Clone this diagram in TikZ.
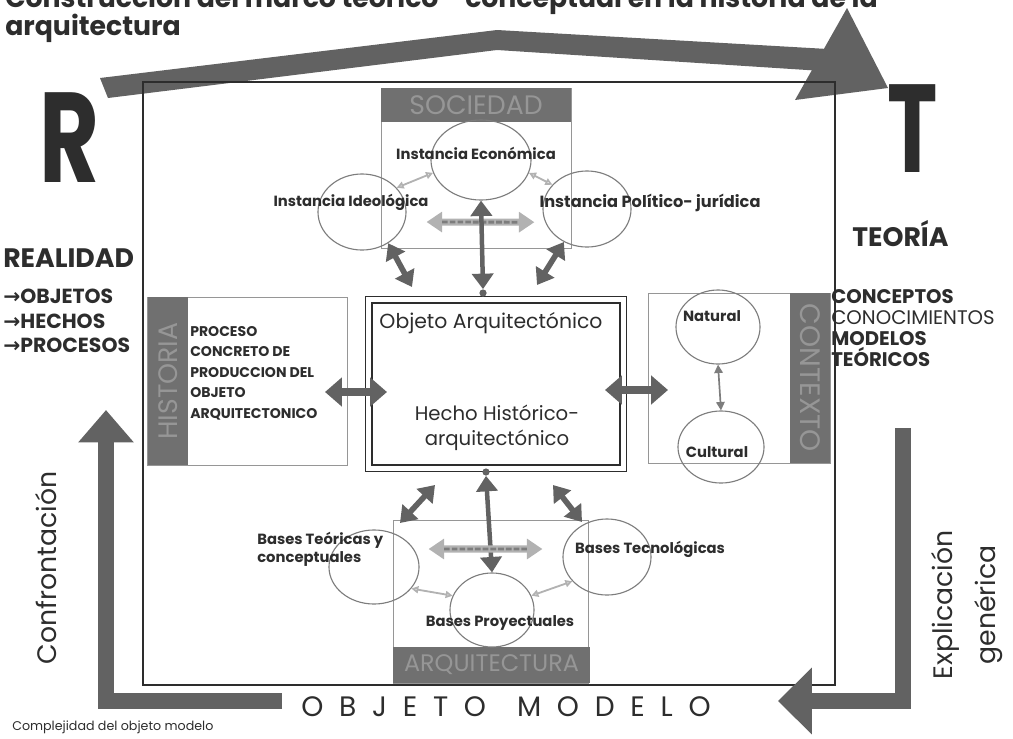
\documentclass[tikz,border=0pt]{standalone}
\usepackage{fontspec}
\setmainfont{Poppins}
\newfontfamily\arrowfont{DejaVu Sans}
\usetikzlibrary{arrows.meta,positioning,shapes.geometric,fit,calc}
\definecolor{rtdark}{RGB}{98,98,98}
\definecolor{rtbar}{RGB}{112,112,112}
\definecolor{rtbartext}{RGB}{150,150,150}
\definecolor{rtline}{RGB}{150,150,150}
\definecolor{rtcirc}{RGB}{125,125,125}
\definecolor{rtlight}{RGB}{178,178,178}
\definecolor{rttext}{RGB}{45,45,45}

\begin{document}
\begin{tikzpicture}[x=0.025cm, y=-0.025cm,
    every node/.style={text=rttext},
    bar/.style={fill=rtbar, inner sep=0pt, font=\fontsize{19}{19}\selectfont, text=rtbartext},
    area/.style={draw=rtline, line width=0.5pt, inner sep=0pt},
    circ/.style={ellipse, draw=rtcirc, line width=0.8pt, inner sep=0pt},
    lbl/.style={font=\bfseries\fontsize{10.5}{13}\selectfont, inner sep=0pt},
    fatarr/.style={{Triangle[length=12pt,width=20pt]}-{Triangle[length=12pt,width=20pt]}, line width=5.5pt, draw=rtdark},
    darkarr/.style={{Triangle[length=11pt,width=15pt]}-{Triangle[length=11pt,width=15pt]}, line width=3.2pt, draw=rtdark},
    dasharr/.style={{Triangle[length=11pt,width=14pt]}-{Triangle[length=11pt,width=14pt]}, line width=5pt, draw=rtlight,
        postaction={draw=rtcirc, line width=2pt, dash pattern=on 4pt off 1.5pt, shorten <=11pt, shorten >=11pt, arrows=-}},
    thinarr/.style={{Triangle[open,length=5pt,width=5pt]}-{Triangle[open,length=5pt,width=5pt]}, line width=1.3pt, draw=rtlight},
    midarr/.style={{Triangle[length=6pt,width=6pt]}-{Triangle[length=6pt,width=6pt]}, line width=1.2pt, draw=rtcirc},
    big/.style={line width=11.5pt, draw=rtdark, line join=miter},
    dot/.style={circle, fill=rtdark, inner sep=0pt, minimum size=0.18cm}
]
\useasboundingbox (0,0) rectangle (1013,738);

% title, first line cut by the page
\node[anchor=base west, font=\bfseries\fontsize{19}{26}\selectfont, inner sep=0pt] (title1) at (5,7) {Construcción del marco teórico - conceptual en la historia de la};
\node[anchor=base west, font=\bfseries\fontsize{19}{26}\selectfont, inner sep=0pt] (title2) at (5,35) {arquitectura};

% big arrow R -> T
\fill[rtdark] (100,78) -- (497,30) -- (845,50) -- (838,72) -- (497,50) -- (108,98) -- cycle;
\fill[rtdark] (847,8) -- (888,88) -- (795,100) -- cycle;

% frame
\draw[line width=1pt, rttext] (143,82) rectangle (835,685);

\node[font=\bfseries\fontsize{91}{91}\selectfont, inner sep=0pt, text=rttext] (rr) at (70,138) {\scalebox{0.72}[1]{R}};
\node[font=\bfseries\fontsize{89}{89}\selectfont, inner sep=0pt, text=rttext] (tt) at (913,129) {\scalebox{0.68}[1]{T}};

\node[anchor=west, font=\bfseries\fontsize{19}{19}\selectfont, inner sep=0pt] (real) at (3,258) {REALIDAD};
\node[anchor=west, align=left, font=\bfseries\fontsize{14.5}{17.4}\selectfont, inner sep=0pt] (reallist) at (3,321)
    {{\arrowfont →}OBJETOS\\{\arrowfont →}HECHOS\\{\arrowfont →}PROCESOS};
\node[anchor=west, font=\bfseries\fontsize{19}{19}\selectfont, inner sep=0pt] (teo) at (852,234) {TEORÍA};
\node[anchor=west, align=left, font=\fontsize{14}{15}\selectfont, inner sep=0pt] (teolist) at (831,328)
    {\textbf{CONCEPTOS}\\CONOCIMIENTOS\\\textbf{MODELOS}\\\textbf{TEÓRICOS}};

% SOCIEDAD
\node[area, minimum width=4.75cm, minimum height=4cm] (socbox) at (476,168) {};
\node[bar, minimum width=4.75cm, minimum height=0.85cm] (socbar) at (476,105) {SOCIEDAD};
\node[circ, minimum width=2.5cm, minimum height=2cm] (eco) at (481,160) {};
\node[circ, minimum width=2.2cm, minimum height=1.9cm] (ideo) at (362,212) {};
\node[circ, minimum width=2.2cm, minimum height=1.9cm] (poli) at (587,209) {};
\node[lbl] (ecot) at (476,153) {Instancia Económica};
\node[lbl] (ideot) at (351,202) {Instancia Ideológica};
\node[lbl, font=\bfseries\fontsize{11.5}{13}\selectfont] (polit) at (650,203) {Instancia Político- jurídica};
\draw[thinarr] (ideo.35) -- (eco.195);
\draw[thinarr] (eco.345) -- (poli.145);
\draw[dasharr] ([xshift=0.5cm,yshift=-0.25cm]ideo.east) -- ([xshift=-0.2cm,yshift=-0.33cm]poli.west);

% objeto arquitectonico
\node[draw=rttext, line width=1.4pt, minimum width=6.2cm, minimum height=4.05cm, inner sep=0pt] (obj) at (496,384) {};
\node[draw=rttext, line width=0.6pt, fit=(obj), inner sep=0.14cm] (objout) {};
\node[font=\fontsize{14.5}{17}\selectfont] (objt) at (491,323) {Objeto Arquitectónico};
\node[font=\fontsize{14}{17.5}\selectfont, align=center] (hecho) at (497,428) {Hecho Histórico-\\arquitectónico};
\node[dot] (topdot) at (483,293) {};
\node[dot] (botdot) at (486,472) {};
\coordinate (ul) at (412,287);
\coordinate (ur) at (537,285);
\draw[darkarr] (eco.south) -- (topdot.north);
\draw[darkarr, line width=4pt] (ideo.310) -- (ul);
\draw[darkarr, line width=4pt] (poli.235) -- (ur);

% HISTORIA
\node[area, minimum width=5cm, minimum height=4.2cm] (histbox) at (247,381) {};
\node[bar, rotate=90, minimum width=4.2cm, minimum height=1cm] (histbar) at (168,381) {HISTORIA};
\node[anchor=west, align=left, font=\bfseries\fontsize{10}{14.6}\selectfont, inner sep=0pt] (histt) at (190,373)
    {PROCESO\\CONCRETO DE\\PRODUCCION DEL\\OBJETO\\ARQUITECTONICO};
\coordinate (hl) at (325,392);
\draw[fatarr] (hl) -- (obj.west |- hl) -- ++(16,0);

% CONTEXTO
\node[area, minimum width=4.55cm, minimum height=4.25cm] (ctxbox) at (739,378) {};
\node[bar, rotate=-90, minimum width=4.25cm, minimum height=1cm, font=\fontsize{20}{20}\selectfont] (ctxbar) at (810,378) {CONTEXTO};
\node[circ, minimum width=2.1cm, minimum height=1.85cm] (nat) at (718,327) {};
\node[circ, minimum width=2.15cm, minimum height=1.8cm] (cul) at (721,447) {};
\node[lbl] (natt) at (712,316) {Natural};
\node[lbl] (cult) at (717,452) {Cultural};
\draw[midarr] (nat.south) -- (cul.north);
\coordinate (cr) at (668,390);
\draw[fatarr] (605,390) -- (cr);

% ARQUITECTURA
\node[area, minimum width=4.875cm, minimum height=4.075cm] (arqbox) at (490.5,601.5) {};
\node[bar, minimum width=4.925cm, minimum height=0.9cm, font=\fontsize{17}{17}\selectfont] (arqbar) at (491.5,665) {ARQUITECTURA};
\node[circ, minimum width=2.25cm, minimum height=1.85cm] (teoc) at (374,567) {};
\node[circ, minimum width=2.2cm, minimum height=1.9cm] (tec) at (607,557) {};
\node[circ, minimum width=2.1cm, minimum height=1.85cm] (pro) at (492,610) {};
\node[lbl, anchor=west, align=left] (teot) at (257,549) {Bases Teóricas y\\conceptuales};
\node[lbl] (tect) at (650,549) {Bases Tecnológicas};
\node[lbl] (prot) at (500,623) {Bases Proyectuales};
\coordinate (dl) at (435,485);
\coordinate (dr) at (553,485);
\coordinate (dlb) at (400,523);
\coordinate (drb) at (582,522);
\draw[darkarr] (botdot.south) -- (pro.north);
\draw[darkarr, line width=4pt] (dlb) -- (dl);
\draw[darkarr, line width=4pt] (drb) -- (dr);
\draw[dasharr] ([xshift=0.225cm,yshift=0.45cm]teoc.east) -- ([xshift=-0.5cm,yshift=0.2cm]tec.west);
\draw[thinarr] (teoc.330) -- (pro.160);
\draw[thinarr] (pro.20) -- (tec.215);

% feedback arrows
\coordinate (cf0) at (282,701);
\coordinate (cf1) at (106,701);
\coordinate (cf2) at (106,410);
\draw[big, -{Triangle[length=23pt,width=38pt]}] (cf0) -- (cf1) -- (cf2);
\coordinate (ex0) at (903,428);
\coordinate (ex1) at (903,701);
\coordinate (ex2) at (778,701);
\draw[big, -{Triangle[length=24pt,width=46pt]}] (ex0) -- (ex1) -- (ex2);

\node[rotate=90, font=\fontsize{19}{19}\selectfont] (conf) at (46,568) {Confrontación};
\node[rotate=90, align=center, font=\fontsize{19}{30}\selectfont] (expl) at (967,605) {Explicación\\genérica};
\node[font=\fontsize{20}{20}\selectfont\addfontfeature{LetterSpace=56}] (om) at (506,707) {OBJETO\hspace{22pt}MODELO};
\node[anchor=west, font=\fontsize{9}{9}\selectfont, inner sep=0pt] (compl) at (12,727) {Complejidad del objeto modelo};
\end{tikzpicture}
\end{document}
